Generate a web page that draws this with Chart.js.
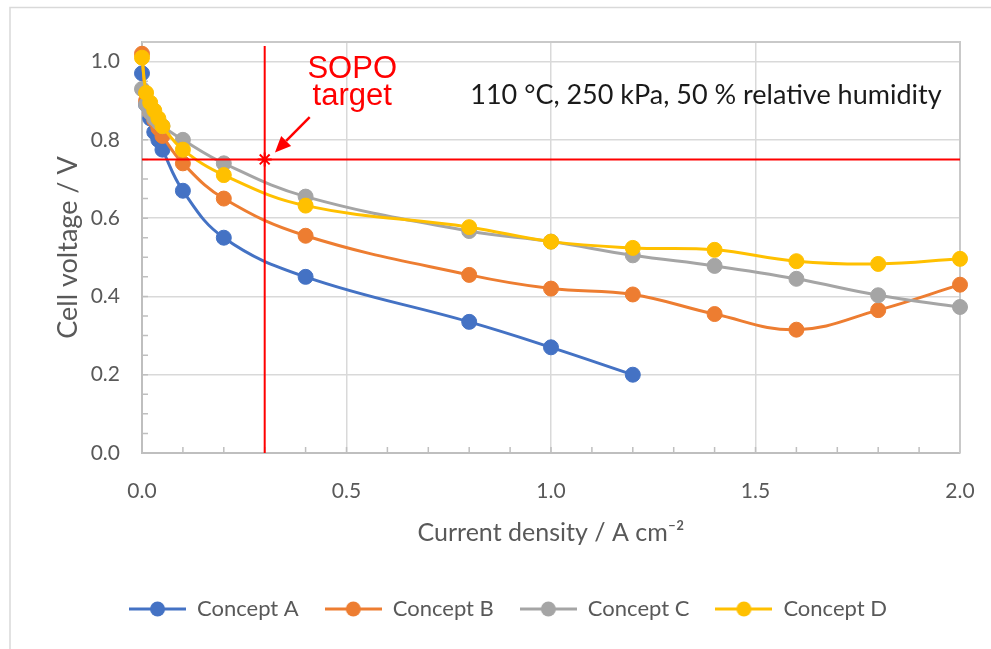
<!DOCTYPE html>
<html>
<head>
<meta charset="utf-8">
<script src="https://cdn.jsdelivr.net/npm/chart.js@4.4.0/dist/chart.umd.min.js"></script>
<style>
  html, body { margin: 0; padding: 0; background: #fff; }
  #wrap { width: 991px; height: 649px; position: relative; }
</style>
</head>
<body>
<div id="wrap"><canvas id="chart"></canvas></div>
<script>
// current density (A cm-2) and cell voltage (V)
const currentA = [0, 0.01, 0.02, 0.03, 0.04, 0.05, 0.1, 0.2, 0.4, 0.8, 1.0, 1.2];
const voltageA = [0.97, 0.89, 0.855, 0.82, 0.80, 0.775, 0.67, 0.55, 0.45, 0.335, 0.27, 0.20];

const currentBCD = [0, 0.01, 0.02, 0.03, 0.04, 0.05, 0.1, 0.2, 0.4, 0.8, 1.0, 1.2, 1.4, 1.6, 1.8, 2.0];
const voltageB = [1.02, 0.90, 0.87, 0.85, 0.83, 0.81, 0.74, 0.65, 0.555, 0.455, 0.42, 0.405, 0.355, 0.315, 0.365, 0.43];
const voltageC = [0.93, 0.89, 0.87, 0.855, 0.845, 0.835, 0.80, 0.74, 0.655, 0.567, 0.54, 0.505, 0.478, 0.445, 0.403, 0.373];
const voltageD = [1.01, 0.92, 0.895, 0.875, 0.855, 0.835, 0.775, 0.71, 0.632, 0.577, 0.54, 0.524, 0.519, 0.49, 0.483, 0.496];

const seriesNames = ['Concept A', 'Concept B', 'Concept C', 'Concept D'];
const seriesColors = ['#4472C4', '#ED7D31', '#A5A5A5', '#FFC000'];

// SOPO target
const targetCurrent = 0.3;
const targetVoltage = 0.75;
const targetLineX = [0, 2.0];
const targetLineY = [0, 1.04];

const yTicks = [0, 0.2, 0.4, 0.6, 0.8, 1.0];
const xTicks = [0, 0.5, 1.0, 1.5, 2.0];

const toPoints = (xs, ys) => xs.map((v, i) => ({ x: v, y: ys[i] }));

function legendIcon(color) {
  const c = document.createElement('canvas');
  c.width = 57; c.height = 16;
  const g = c.getContext('2d');
  g.strokeStyle = color; g.lineWidth = 3;
  g.beginPath(); g.moveTo(0, 8); g.lineTo(57, 8); g.stroke();
  g.fillStyle = color;
  g.beginPath(); g.arc(28.5, 8, 7.5, 0, Math.PI * 2); g.fill();
  return c;
}
const icons = seriesColors.map(legendIcon);

function seriesSet(i, xs, ys) {
  return {
    label: seriesNames[i],
    data: toPoints(xs, ys),
    showLine: true,
    borderColor: seriesColors[i],
    backgroundColor: seriesColors[i],
    borderWidth: 3,
    tension: 0.4,
    pointRadius: 7.5,
    pointBorderWidth: 1,
    pointBackgroundColor: seriesColors[i],
    clip: false,
    order: 4 - i
  };
}

const decorations = {
  id: 'decorations',
  beforeDraw(chart) {
    const ctx = chart.ctx;
    ctx.save();
    ctx.strokeStyle = '#D9D9D9';
    ctx.lineWidth = 1.5;
    ctx.beginPath();
    ctx.moveTo(10, chart.height);
    ctx.lineTo(10, 7.5);
    ctx.lineTo(chart.width, 7.5);
    ctx.stroke();
    ctx.restore();
  },
  beforeDatasetsDraw(chart) {
    const { ctx, chartArea: a, scales: { x, y } } = chart;
    ctx.save();
    ctx.strokeStyle = '#C9C9C9';
    ctx.lineWidth = 2;
    ctx.beginPath();
    ctx.moveTo(a.left, a.top);
    ctx.lineTo(a.right, a.top);
    ctx.lineTo(a.right, a.bottom);
    ctx.stroke();
    // minor tick marks, inside
    ctx.strokeStyle = '#BFBFBF';
    ctx.lineWidth = 1.5;
    ctx.beginPath();
    for (let k = 1; k <= 20; k++) {
      const py = y.getPixelForValue(k * 0.05);
      ctx.moveTo(a.left, py); ctx.lineTo(a.left + 6, py);
    }
    for (let k = 1; k < 20; k++) {
      const px = x.getPixelForValue(k * 0.1);
      ctx.moveTo(px, a.bottom); ctx.lineTo(px, a.bottom - 6);
    }
    ctx.stroke();
    ctx.restore();
  },
  afterDatasetsDraw(chart) {
    const { ctx, scales: { x, y } } = chart;
    ctx.save();
    ctx.fillStyle = '#1A1A1A';
    ctx.font = '27px Lato';
    ctx.textAlign = 'right';
    ctx.textBaseline = 'alphabetic';
    ctx.fillText('110 °C, 250 kPa, 50 % relative humidity', x.getPixelForValue(1.955), y.getPixelForValue(0.892));

    ctx.fillStyle = '#FF0000';
    ctx.font = '31px "Liberation Sans"';
    ctx.textAlign = 'center';
    ctx.fillText('SOPO', x.getPixelForValue(0.514), y.getPixelForValue(0.958));
    ctx.fillText('target', x.getPixelForValue(0.514), y.getPixelForValue(0.889));

    // arrow
    const x0 = x.getPixelForValue(0.41), y0 = y.getPixelForValue(0.858);
    const x1 = x.getPixelForValue(0.325), y1 = y.getPixelForValue(0.768);
    const ang = Math.atan2(y1 - y0, x1 - x0);
    const hl = 16, hw = 7;
    const bx = x1 - hl * Math.cos(ang), by = y1 - hl * Math.sin(ang);
    ctx.strokeStyle = '#FF0000';
    ctx.lineWidth = 2.5;
    ctx.beginPath(); ctx.moveTo(x0, y0); ctx.lineTo(bx, by); ctx.stroke();
    ctx.beginPath();
    ctx.moveTo(x1, y1);
    ctx.lineTo(bx + hw * Math.sin(ang), by - hw * Math.cos(ang));
    ctx.lineTo(bx - hw * Math.sin(ang), by + hw * Math.cos(ang));
    ctx.closePath();
    ctx.fill();
    ctx.restore();
  }
};

Chart.defaults.font.family = 'Lato';

new Chart(document.getElementById('chart'), {
  type: 'scatter',
  data: {
    datasets: [
      seriesSet(0, currentA, voltageA),
      seriesSet(1, currentBCD, voltageB),
      seriesSet(2, currentBCD, voltageC),
      seriesSet(3, currentBCD, voltageD),
      {
        label: 'target voltage',
        data: toPoints(targetLineX, [targetVoltage, targetVoltage]),
        showLine: true, borderColor: '#FF0000', borderWidth: 2,
        pointRadius: 0, tension: 0, order: 0
      },
      {
        label: 'target current',
        data: toPoints([targetCurrent, targetCurrent], targetLineY),
        showLine: true, borderColor: '#FF0000', borderWidth: 2,
        pointRadius: 0, tension: 0, order: 0
      },
      {
        label: 'target',
        data: [{ x: targetCurrent, y: targetVoltage }],
        pointStyle: 'star', pointRadius: 7, borderColor: '#FF0000',
        pointBorderWidth: 2, order: 0
      }
    ]
  },
  options: {
    responsive: true,
    maintainAspectRatio: false,
    animation: false,
    layout: { padding: { top: 42, left: 56, right: 31, bottom: 19 } },
    plugins: {
      tooltip: { enabled: false },
      legend: {
        position: 'bottom',
        labels: {
          usePointStyle: true,
          pointStyleWidth: 57,
          boxHeight: 16,
          padding: 26,
          color: '#595959',
          font: { size: 22 },
          generateLabels(chart) {
            const items = Chart.defaults.plugins.legend.labels.generateLabels(chart);
            return items
              .filter(it => it.datasetIndex < 4)
              .sort((p, q) => p.datasetIndex - q.datasetIndex)
              .map(it => Object.assign(it, { pointStyle: icons[it.datasetIndex] }));
          }
        }
      }
    },
    scales: {
      x: {
        type: 'linear',
        min: 0, max: 2,
        afterBuildTicks: s => { s.ticks = xTicks.map(v => ({ value: v })); },
        afterFit: s => { s.height = 119; },
        grid: { color: '#D9D9D9', lineWidth: 1.5, drawTicks: true, tickLength: 26, tickColor: 'rgba(0,0,0,0)' },
        border: { color: '#BFBFBF', width: 2 },
        ticks: { color: '#595959', font: { size: 21 }, padding: 0, callback: v => v.toFixed(1) },
        title: {
          display: true,
          text: 'Current density / A cm\u207B\u00B2',
          color: '#595959',
          font: { size: 25 },
          padding: { top: 0, bottom: 24 }
        }
      },
      y: {
        type: 'linear',
        min: 0, max: 1.05,
        afterBuildTicks: s => { s.ticks = yTicks.map(v => ({ value: v })); },
        afterFit: s => { s.width = 86; },
        grid: { color: '#D9D9D9', lineWidth: 1.5, drawTicks: true, tickLength: 22, tickColor: 'rgba(0,0,0,0)' },
        border: { color: '#BFBFBF', width: 2 },
        ticks: { color: '#595959', font: { size: 21 }, padding: 0, callback: v => v.toFixed(1) },
        title: {
          display: true,
          text: 'Cell voltage / V',
          color: '#595959',
          font: { size: 27 },
          padding: { top: -4, bottom: 0 }
        }
      }
    }
  },
  plugins: [decorations]
});
</script>
</body>
</html>
